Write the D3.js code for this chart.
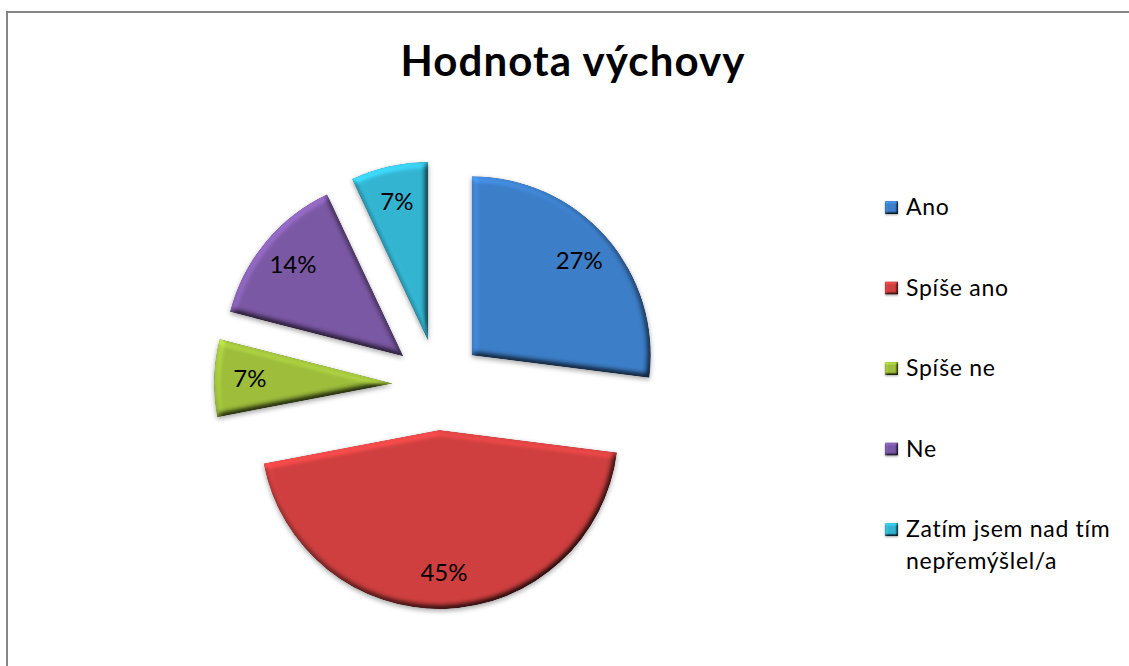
<!DOCTYPE html>
<html>
<head>
<meta charset="utf-8">
<script src="https://cdn.jsdelivr.net/npm/d3@7"></script>
<style>
  body { margin: 0; background: #fff; overflow: hidden; }
  svg { display: block; }
  text { font-family: Lato, "Open Sans", sans-serif; }
</style>
</head>
<body>
<div id="chart"></div>
<script>
var categories = ["Ano", "Spíše ano", "Spíše ne", "Ne", "Zatím jsem nad tím nepřemýšlel/a"]
var values = [27, 45, 7, 14, 7]
var pctLabels = ["27%", "45%", "7%", "14%", "7%"]
var legendLines = [["Ano"], ["Spíše ano"], ["Spíše ne"], ["Ne"], ["Zatím jsem nad tím", "nepřemýšlel/a"]]
var colors = ["#3c7ec8", "#cf3f3f", "#9dbd3b", "#7b58a4", "#33b5d2"]

var W = 1129, H = 666
var cx = 438, cy = 385, r = 179, explode = 45

var svg = d3.select("#chart").append("svg").attr("width", W).attr("height", H)
var defs = svg.append("defs")

function bevel(id, blur, scale) {
  var f = defs.append("filter").attr("id", id)
    .attr("x", "-20%").attr("y", "-20%").attr("width", "140%").attr("height", "140%")
    .attr("color-interpolation-filters", "sRGB")
  f.append("feGaussianBlur").attr("in", "SourceAlpha").attr("stdDeviation", blur).attr("result", "blur")
  f.append("feDiffuseLighting").attr("in", "blur").attr("surfaceScale", scale)
    .attr("diffuseConstant", 1).attr("lighting-color", "#fff").attr("result", "diff")
    .append("feDistantLight").attr("azimuth", 235).attr("elevation", 55)
  f.append("feComposite").attr("in", "SourceGraphic").attr("in2", "diff")
    .attr("operator", "arithmetic").attr("k1", 1.22).attr("k2", 0).attr("k3", 0).attr("k4", 0).attr("result", "lit")
  f.append("feComposite").attr("in", "lit").attr("in2", "SourceAlpha").attr("operator", "in").attr("result", "shape")
  f.append("feGaussianBlur").attr("in", "SourceAlpha").attr("stdDeviation", blur * 0.8).attr("result", "sb")
  f.append("feOffset").attr("in", "sb").attr("dx", 0).attr("dy", blur * 0.7).attr("result", "so")
  f.append("feComponentTransfer").attr("in", "so").attr("result", "shadow")
    .append("feFuncA").attr("type", "linear").attr("slope", 0.35)
  var m = f.append("feMerge")
  m.append("feMergeNode").attr("in", "shadow")
  m.append("feMergeNode").attr("in", "shape")
}
bevel("bevel", 3, 4)
bevel("bevelSmall", 1.2, 2)

// frame (right and bottom edges fall outside the picture)
svg.append("rect").attr("x", 7).attr("y", 12).attr("width", W + 20).attr("height", H + 20)
  .attr("fill", "none").attr("stroke", "#868686").attr("stroke-width", 2)

svg.append("text").attr("x", 573).attr("y", 76).attr("text-anchor", "middle")
  .attr("font-size", 42).attr("font-weight", "bold").attr("letter-spacing", 1.1)
  .attr("fill", "#000").text("Hodnota výchovy")

var pie = d3.pie().sort(null).value(function(d) { return d })
var arcs = pie(values)
var arc = d3.arc().innerRadius(0).outerRadius(r)

var g = svg.append("g").attr("transform", "translate(" + cx + "," + cy + ")")

var slices = g.selectAll("g.slice").data(arcs).enter().append("g").attr("class", "slice")
  .attr("transform", function(d) {
    var a = (d.startAngle + d.endAngle) / 2
    return "translate(" + (Math.sin(a) * explode) + "," + (-Math.cos(a) * explode) + ")"
  })

slices.append("path").attr("d", arc)
  .attr("fill", function(d, i) { return colors[i] })
  .attr("filter", "url(#bevel)")

slices.append("text")
  .attr("x", function(d) { return Math.sin((d.startAngle + d.endAngle) / 2) * r * 0.8 })
  .attr("y", function(d) { return -Math.cos((d.startAngle + d.endAngle) / 2) * r * 0.8 })
  .attr("dy", "0.35em").attr("text-anchor", "middle")
  .attr("font-size", 24).attr("fill", "#000")
  .text(function(d, i) { return pctLabels[i] })

var legend = svg.append("g").attr("transform", "translate(885,0)")
var items = legend.selectAll("g").data(categories).enter().append("g")
  .attr("transform", function(d, i) { return "translate(0," + (215 + i * 80.5) + ")" })
items.append("rect").attr("x", 0).attr("y", -14).attr("width", 13).attr("height", 13)
  .attr("fill", function(d, i) { return colors[i] }).attr("filter", "url(#bevelSmall)")
items.append("text").attr("x", 21).attr("y", 0).attr("font-size", 23).attr("letter-spacing", 0.7)
  .attr("fill", "#000")
  .selectAll("tspan").data(function(d, i) { return legendLines[i] }).enter().append("tspan")
  .attr("x", 21).attr("dy", function(d, j) { return j === 0 ? 0 : 32 })
  .text(function(d) { return d })
</script>
</body>
</html>
